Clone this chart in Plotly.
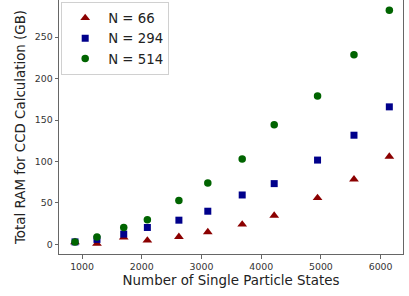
import plotly.graph_objects as go

states = [882, 1250, 1698, 2094, 2622, 3106, 3682, 4218, 4944, 5554, 6146]
ram_66 = [2.8, 0.8, 8.4, 4.8, 9.2, 14.8, 24.0, 34.8, 56.0, 78.5, 106.0]
ram_294 = [3.0, 6.0, 12.4, 20.4, 29.2, 40.0, 59.6, 73.3, 101.7, 131.7, 165.9]
ram_514 = [3.0, 8.8, 20.4, 29.6, 52.9, 74.0, 103.0, 144.2, 179.0, 228.7, 282.4]

series = [
    ("N = 66", ram_66, "darkred", "triangle-up", 8.5),
    ("N = 294", ram_294, "darkblue", "square", 7),
    ("N = 514", ram_514, "darkgreen", "circle", 7.5),
]

font = "DejaVu Sans"
fig = go.Figure()
for name, ys, color, sym, sz in series:
    fig.add_trace(go.Scatter(
        x=states, y=ys, mode="markers", name=name,
        marker=dict(color=color, symbol=sym, size=sz, line=dict(width=0)),
    ))

axis_common = dict(
    showgrid=False, zeroline=False, showline=True, linecolor="#666", linewidth=1,
    ticks="outside", ticklen=3.5, tickwidth=0.8, tickcolor="#666",
    tickfont=dict(family=font, size=9.4, color="#333"),
)
fig.update_xaxes(range=[614, 6375], tickvals=[1000, 2000, 3000, 4000, 5000, 6000],
                 title=dict(text="Number of Single Particle States", standoff=4,
                            font=dict(family=font, size=13.4, color="#222")),
                 **axis_common)
fig.update_yaxes(range=[-11.6, 294.8], tickvals=[0, 50, 100, 150, 200, 250],
                 mirror=True,
                 title=dict(text="Total RAM for CCD Calculation (GB)", standoff=6,
                            font=dict(family=font, size=13.4, color="#222")),
                 **axis_common)
fig.update_layout(
    width=409, height=296,
    margin=dict(l=59, r=6, t=0, b=42),
    paper_bgcolor="white", plot_bgcolor="white",
    showlegend=True,
    legend=dict(x=0.0064, y=0.993, xanchor="left", yanchor="top",
                bgcolor="white", bordercolor="#d0d0d0", borderwidth=1,
                itemwidth=36, tracegroupgap=0,
                font=dict(family=font, size=13.3, color="#222")),
)
fig.write_html("out.html", config={"displayModeBar": False},
               post_script="document.body.style.margin='0px';")
